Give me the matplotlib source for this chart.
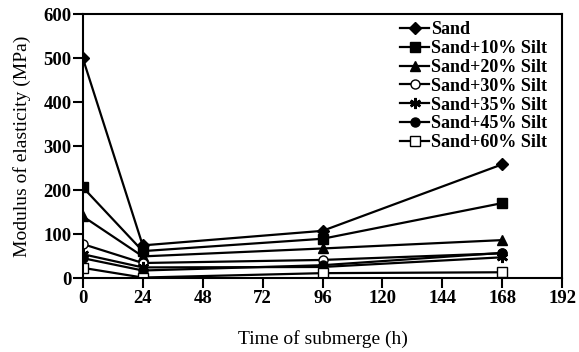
import matplotlib
matplotlib.use('Agg')
import matplotlib.pyplot as plt

plt.rcParams['font.family'] = ['Liberation Serif', 'DejaVu Serif']

hours = [0, 24, 96, 168]

sand = [500, 75, 108, 259]
silt10 = [207, 62, 90, 171]
silt20 = [141, 50, 68, 87]
silt30 = [78, 35, 42, 57]
silt35 = [55, 25, 26, 48]
silt45 = [46, 18, 30, 58]
silt60 = [24, 2, 12, 14]

series = [
    ('Sand', sand, dict(marker='D', markersize=6, mfc='black')),
    ('Sand+10% Silt', silt10, dict(marker='s', markersize=7, mfc='black')),
    ('Sand+20% Silt', silt20, dict(marker='^', markersize=7, mfc='black')),
    ('Sand+30% Silt', silt30, dict(marker='o', markersize=6.5, mfc='white')),
    ('Sand+35% Silt', silt35, dict(marker=(6, 2, 0), markersize=8, mew=1.8)),
    ('Sand+45% Silt', silt45, dict(marker='o', markersize=6.5, mfc='black')),
    ('Sand+60% Silt', silt60, dict(marker='s', markersize=6.5, mfc='white')),
]

fig = plt.figure(figsize=(5.79, 3.52), dpi=100)
ax = fig.add_axes([0.143, 0.209, 0.828, 0.751])

for name, vals, style in series:
    ax.plot(hours, vals, color='black', lw=1.6, mec='black', label=name, **style)

ax.set_xlim(0, 192)
ax.set_ylim(0, 600)
ax.set_xticks(range(0, 193, 24))
ax.set_yticks(range(0, 601, 100))
ax.tick_params(direction='out', length=7, width=1.5, labelsize=13.5, pad=1)
for lbl in ax.get_xticklabels() + ax.get_yticklabels():
    lbl.set_fontweight('bold')
for sp in ax.spines.values():
    sp.set_linewidth(1.5)

ax.set_xlabel('Time of submerge (h)', fontsize=14, labelpad=17)
ax.set_ylabel('Modulus of elasticity (MPa)', fontsize=14, labelpad=9)

leg = ax.legend(loc='upper right', frameon=False, handlelength=1.6, handletextpad=0.1,
                labelspacing=0.1, borderaxespad=0.0, bbox_to_anchor=(0.984, 1.0),
                prop={'weight': 'bold', 'size': 13})

fig.savefig('out.png', dpi=100)
